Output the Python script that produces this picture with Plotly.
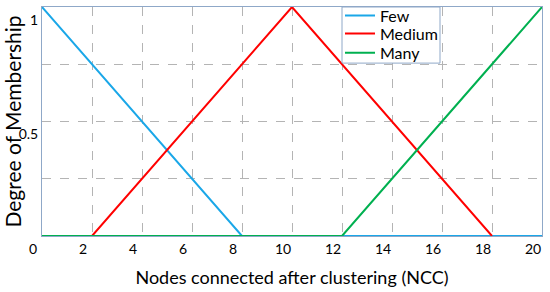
import plotly.graph_objects as go

# membership functions (NCC value, degree)
few_x = [0, 8, 20]
few_y = [1, 0, 0]
medium_x = [2, 10, 18]
medium_y = [0, 1, 0]
many_x = [0, 12, 20]
many_y = [0, 0, 1]

x_ticks = [0, 2, 4, 6, 8, 10, 12, 14, 16, 18, 20]
y_ticks = [0.25, 0.5, 0.75, 1]
y_labels = ["", "0.5", "", "1"]

FONT = "Lato"
FRAME = "#8fa8c8"

fig = go.Figure()
fig.add_trace(go.Scatter(x=few_x, y=few_y, mode="lines", name="Few",
                         legend="legend",
                         line=dict(color="#1aa7e8", width=2)))
fig.add_trace(go.Scatter(x=medium_x, y=medium_y, mode="lines", name="Medium",
                         legend="legend2",
                         line=dict(color="#ff0000", width=2)))
fig.add_trace(go.Scatter(x=many_x, y=many_y, mode="lines", name="Many",
                         legend="legend3",
                         line=dict(color="#00b050", width=2)))

# the legend frame (white box in the upper right)
fig.add_shape(type="rect", xref="paper", yref="paper",
              x0=0.6, x1=0.796, y0=0.755, y1=1,
              line=dict(color=FRAME, width=1), fillcolor="white", layer="above")


def legend_at(y):
    # one entry per legend so the rows can sit as tight as in the original
    return dict(x=0.596, y=y, xanchor="left", yanchor="middle",
                bgcolor="rgba(0,0,0,0)", borderwidth=0,
                font=dict(size=16), itemwidth=30)


fig.update_layout(
    width=550, height=292,
    margin=dict(l=42, r=8, t=7, b=56, autoexpand=False),
    plot_bgcolor="white", paper_bgcolor="white",
    font=dict(family=FONT, color="black"),
    showlegend=True,
    legend=legend_at(0.962),
    legend2=legend_at(0.884),
    legend3=legend_at(0.80),
    xaxis=dict(range=[0, 20], tickvals=x_ticks, ticks="", automargin=False,
               showgrid=True, gridcolor="#b4b4b4", griddash="dash", gridwidth=1,
               showline=True, linecolor=FRAME, mirror=True, zeroline=False,
               tickfont=dict(size=14), ticklabelshift=-9,
               title=dict(text="Nodes connected after clustering (NCC)",
                          font=dict(size=18))),
    yaxis=dict(range=[0, 1], tickvals=y_ticks, ticktext=y_labels, ticks="",
               automargin=False,
               showgrid=True, gridcolor="#b4b4b4", griddash="dash", gridwidth=1,
               showline=True, linecolor=FRAME, mirror=True, zeroline=False,
               tickfont=dict(size=14), ticklabelshift=13,
               title=dict(text="Degree of Membership", font=dict(size=21))),
)

fig.write_html("out.html", config={"displayModeBar": False},
               post_script="document.body.style.margin='0';")
